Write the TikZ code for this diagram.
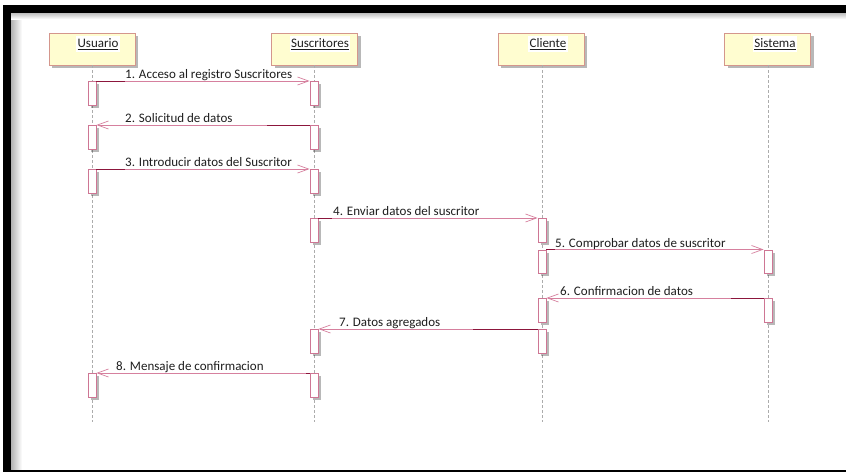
\documentclass[tikz,border=0pt]{standalone}
\usepackage{fontspec}
\setmainfont{Carlito}
\usetikzlibrary{arrows.meta,shadows}
\definecolor{maroon}{RGB}{140,22,60}
\definecolor{msgpink}{RGB}{214,128,158}
\definecolor{actborder}{RGB}{206,118,148}
\definecolor{headborder}{RGB}{212,150,140}
\definecolor{headfill}{RGB}{255,253,208}
\definecolor{txt}{RGB}{30,30,30}
\tikzset{
  myshadow/.style={drop shadow={shadow xshift=3pt,shadow yshift=-3pt,fill=black,opacity=0.28}},
  head/.style={draw=headborder,fill=headfill,line width=0.8pt,minimum width=86pt,minimum height=32pt,inner sep=0pt,myshadow},
  headlbl/.style={fill=white,inner xsep=1.5pt,inner ysep=2pt,text=txt,font=\fontsize{13}{15}\selectfont},
  life/.style={draw=gray!65,line width=0.7pt,dash pattern=on 3pt off 2pt},
  actbox/.style={draw=actborder,fill=white,line width=0.8pt,minimum width=8pt,minimum height=23.5pt,inner sep=0pt,anchor=north,myshadow},
  msg/.style={draw=msgpink,line width=0.8pt,-{Straight Barb[length=11pt,width=8pt,line width=0.7pt]}},
  msgdark/.style={draw=maroon,line width=0.9pt},
  msglbl/.style={anchor=base west,inner sep=0pt,text=txt,font=\fontsize{13}{15}\selectfont}
}
\begin{document}
\begin{tikzpicture}[x=1pt,y=-1pt]
\useasboundingbox (0,0) rectangle (846,472);
\fill[white] (0,0) rectangle (846,472);
% frame
\shade[left color=gray!60,right color=white] (11,13) rectangle (22,470);
\shade[top color=gray!50,bottom color=white] (11,13) rectangle (846,19);
\fill[black] (3,5) rectangle (846,13);
\fill[black] (3,5) rectangle (11,472);
\fill[black] (3,469.5) rectangle (846,472);

% lifeline heads
\node[head] (hu) at (92,49) {};
\node[head] (hs) at (314.5,49) {};
\node[head] (hc) at (541,49) {};
\node[head] (hsi) at (767.5,49) {};
\node[headlbl] (tu) at (98,44) {\underline{Usuario}\hspace{10pt}};
\node[headlbl] (ts) at (320,44) {\underline{Suscritores}\hspace{6pt}};
\node[headlbl] (tc) at (548,44) {\underline{Cliente}\hspace{10pt}};
\node[headlbl] (tsi) at (775,44) {\underline{Sistema}\hspace{14pt}};

% lifelines
\coordinate (eu) at (92,422);
\coordinate (es) at (314,422);
\coordinate (ec) at (542,422);
\coordinate (esi) at (768,422);
\draw[life] (92,65) -- (eu);
\draw[life] (314,65) -- (es);
\draw[life] (542,65) -- (ec);
\draw[life] (768,65) -- (esi);

% activation boxes
\node[actbox] (u1) at (92,81) {};
\node[actbox] (s1) at (314,81) {};
\node[actbox] (u2) at (92,125) {};
\node[actbox] (s2) at (314,125) {};
\node[actbox] (u3) at (92,169) {};
\node[actbox] (s3) at (314,169) {};
\node[actbox] (s4) at (314,218) {};
\node[actbox] (c4) at (542,218) {};
\node[actbox] (c5) at (542,249.5) {};
\node[actbox] (si5) at (768,249.5) {};
\node[actbox] (c6) at (542,298) {};
\node[actbox] (si6) at (768,298) {};
\node[actbox] (s7) at (314,329) {};
\node[actbox] (c7) at (542,329) {};
\node[actbox] (u8) at (92,373) {};
\node[actbox] (s8) at (314,373) {};

% messages
\coordinate (b1) at (125,81);
\draw[msg] (u1.north east) -- (s1.north west);
\draw[msgdark] (u1.north east) -- (b1);
\node[msglbl] (l1) at (125,78.5) {1. Acceso al registro Suscritores};

\coordinate (b2) at (267,125);
\draw[msg] (s2.north west) -- (u2.north east);
\draw[msgdark] (s2.north west) -- (b2);
\node[msglbl] (l2) at (125,122.5) {2. Solicitud de datos};

\coordinate (b3) at (125,169);
\draw[msg] (u3.north east) -- (s3.north west);
\draw[msgdark] (u3.north east) -- (b3);
\node[msglbl] (l3) at (125,166.5) {3. Introducir datos del Suscritor};

\coordinate (b4) at (332,218);
\draw[msg] (s4.north east) -- (c4.north west);
\draw[msgdark] (s4.north east) -- (b4);
\node[msglbl] (l4) at (333,215.5) {4. Enviar datos del suscritor};

\coordinate (b5) at (555,249.5);
\draw[msg] (c5.north east) -- (si5.north west);
\draw[msgdark] (c5.north east) -- (b5);
\node[msglbl] (l5) at (555,247) {5. Comprobar datos de suscritor};

\coordinate (b6) at (731,298);
\draw[msg] (si6.north west) -- (c6.north east);
\draw[msgdark] (si6.north west) -- (b6);
\node[msglbl] (l6) at (560,295.5) {6. Confirmacion de datos};

\coordinate (b7) at (473,329);
\draw[msg] (c7.north west) -- (s7.north east);
\draw[msgdark] (c7.north west) -- (b7);
\node[msglbl] (l7) at (339,326.5) {7. Datos agregados};

\coordinate (b8) at (306,373);
\draw[msg] (s8.north west) -- (u8.north east);
\draw[msgdark] (s8.north west) -- (b8);
\node[msglbl] (l8) at (116,370.5) {8. Mensaje de confirmacion};
\end{tikzpicture}
\end{document}
